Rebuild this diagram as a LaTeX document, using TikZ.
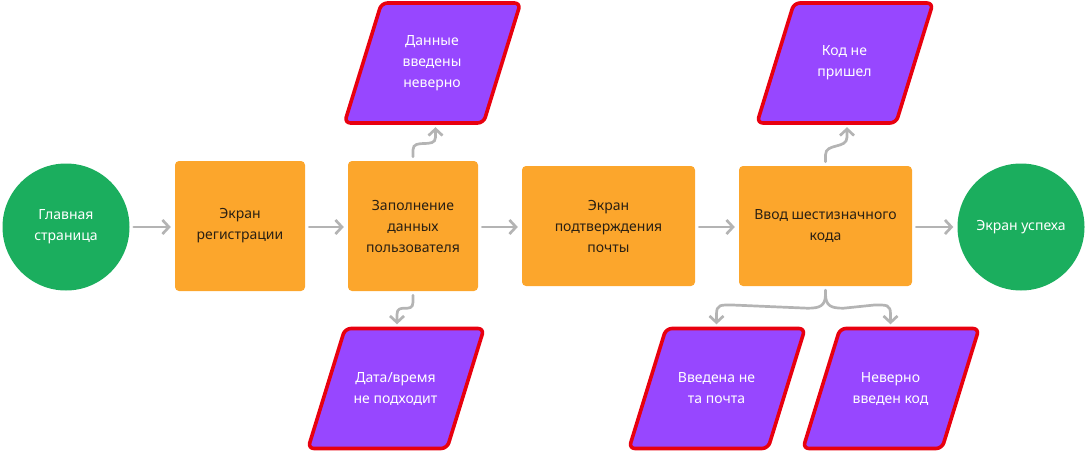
\documentclass[tikz,border=0pt]{standalone}
\usepackage{fontspec}
\setmainfont{Noto Sans}
\usetikzlibrary{arrows.meta,calc}
\definecolor{okgreen}{HTML}{1BAE5E}
\definecolor{boxorange}{HTML}{FCA62C}
\definecolor{errpurple}{HTML}{9747FF}
\definecolor{errred}{HTML}{E8000F}
\definecolor{conngray}{HTML}{B4B4B4}
\definecolor{darktext}{HTML}{2A2013}
\tikzset{
  txt/.style={font=\fontsize{14}{21}\selectfont, align=center},
  endcircle/.style={circle, fill=okgreen, minimum size=127pt, inner sep=0pt, text=white, txt},
  stepbox/.style={rectangle, fill=boxorange, rounded corners=4pt, inner sep=0pt, text=darktext, txt},
  errnode/.style={rectangle, inner sep=0pt, minimum width=175pt, minimum height=120pt, text=white, txt},
  errshape/.style={fill=errpurple, draw=errred, line width=3.6pt, rounded corners=6pt, line join=round},
  conn/.style={draw=conngray, line width=2.7pt, line cap=round,
    -{Straight Barb[length=6.5pt,width=14pt,line width=2.7pt]}},
}
\newcommand{\errpara}[4]{%
  \draw[errshape] ($(#2,#3)+(-50.5,-60)$) -- ++(139,0) -- ++(-37,120) -- ++(-139,0) -- cycle;
  \node[errnode] (#1) at (#2,#3) {#4};
}
\begin{document}
\begin{tikzpicture}[x=1pt,y=-1pt]
\useasboundingbox (0,0) rectangle (1087,452);
% main row
\node[endcircle] (start) at (66,227) {Главная\\страница};
\node[stepbox, minimum width=130pt, minimum height=130pt] (reg) at (240,226) {Экран\\регистрации};
\node[stepbox, minimum width=130pt, minimum height=130pt] (fill) at (413,226) {Заполнение\\данных\\пользователя};
\node[stepbox, minimum width=173pt, minimum height=120pt] (mail) at (608.5,226) {Экран\\подтверждения\\почты};
\node[stepbox, minimum width=173pt, minimum height=120pt] (code) at (825.5,226) {Ввод шестизначного\\кода};
\node[endcircle] (done) at (1021,227) {Экран успеха};
% error nodes
\errpara{wrongdata}{432}{63}{Данные\\введены\\неверно}
\errpara{wrongtime}{395.5}{388.5}{Дата/время\\не подходит}
\errpara{nocode}{844.5}{63}{Код не\\пришел}
\errpara{wrongmail}{716.5}{388.5}{Введена не\\та почта}
\errpara{wrongcode}{890.5}{388.5}{Неверно\\введен код}
% horizontal connectors
\draw[conn] ([xshift=4pt]start.east |- 0,227) -- ([xshift=-4pt]reg.west |- 0,227);
\draw[conn] ([xshift=4pt]reg.east |- 0,227) -- ([xshift=-4pt]fill.west |- 0,227);
\draw[conn] ([xshift=4pt]fill.east |- 0,227) -- ([xshift=-4pt]mail.west |- 0,227);
\draw[conn] ([xshift=4pt]mail.east |- 0,227) -- ([xshift=-4pt]code.west |- 0,227);
\draw[conn] ([xshift=4pt]code.east |- 0,227) -- ([xshift=-4pt]done.west |- 0,227);
% wavy connectors
\draw[conn] ([yshift=4pt]fill.north) -- ++(0,-7) .. controls +(0,-12) and +(0,12) .. ([xshift=3.5pt,yshift=-14pt]wrongdata.south) -- ([xshift=3.5pt,yshift=-4pt]wrongdata.south);
\draw[conn] ([yshift=-4pt]fill.south) -- ++(0,7) .. controls +(0,12) and +(0,-12) .. ([xshift=1.5pt,yshift=14pt]wrongtime.north) -- ([xshift=1.5pt,yshift=4pt]wrongtime.north);
\draw[conn] ([yshift=4pt]code.north) -- ++(0,-7) .. controls +(0,-12) and +(0,12) .. ([xshift=2.5pt,yshift=-14pt]nocode.south) -- ([xshift=2.5pt,yshift=-4pt]nocode.south);
% fork
\draw[conn] ([yshift=-4pt]code.south) -- ++(0,4) .. controls +(0,12) and +(12,0) .. ++(-18,14) -- ([xshift=16pt]wrongmail.north |- 0,305) .. controls +(-12,0) and +(0,-10) .. ([yshift=14pt]wrongmail.north) -- ([yshift=4pt]wrongmail.north);
\draw[conn] ([yshift=-4pt]code.south) -- ++(0,4) .. controls +(0,12) and +(-12,0) .. ++(18,14) -- ([xshift=-16pt]wrongcode.north |- 0,305) .. controls +(12,0) and +(0,-10) .. ([yshift=14pt]wrongcode.north) -- ([yshift=4pt]wrongcode.north);
\end{tikzpicture}
\end{document}
